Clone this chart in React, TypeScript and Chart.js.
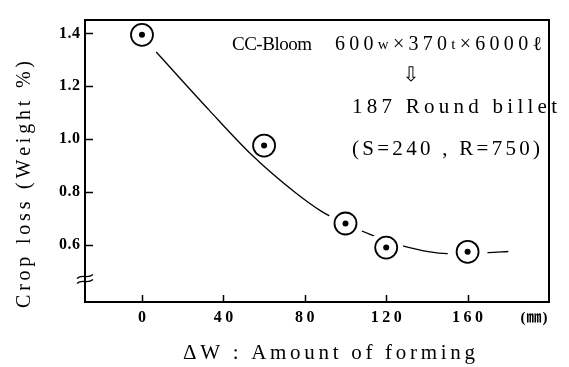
import React, { useEffect, useRef } from "react";
import { Chart, registerables } from "chart.js";

Chart.register(...registerables);

// measured points (ΔW in mm, crop loss in weight %)
const pointX = [0, 60, 100, 120, 160];
const pointY = [1.395, 0.976, 0.681, 0.59, 0.574];

// fitted curve
const curveX = [7, 33, 54, 75, 88, 100, 113, 128, 150, 170, 180];
const curveY = [1.33, 1.11, 0.94, 0.8, 0.728, 0.68, 0.637, 0.596, 0.567, 0.571, 0.575];

const xTicks = [0, 40, 80, 120, 160];
const xTickLabels = ["0", "40", "80", "120", "160"];
const yTicks = [0.6, 0.8, 1.0, 1.2, 1.4];
const yTickLabels = ["0.6", "0.8", "1.0", "1.2", "1.4"];

const xTitle = "ΔW : Amount of forming";
const yTitle = "Crop loss (Weight %)";
const unitLabel = "(㎜)";
const noteLine1a = "CC-Bloom";
const noteLine1b = [
  ["600", "big"],
  ["w", "small"],
  ["×370", "big"],
  ["t", "small"],
  ["×6000ℓ", "big"],
];
const noteArrow = "⇩";
const noteLine2 = "187 Round billet";
const noteLine3 = "(S=240 , R=750)";

const SERIF = "'Liberation Serif', 'DejaVu Serif', serif";

type Run = { t: string; font: string };

function layoutChars(ctx: CanvasRenderingContext2D, runs: Run[]) {
  const chars: { ch: string; font: string; w: number }[] = [];
  for (const r of runs) {
    ctx.font = r.font;
    for (const ch of Array.from(r.t)) {
      chars.push({ ch, font: r.font, w: ctx.measureText(ch).width });
    }
  }
  return chars;
}

function drawFit(ctx: CanvasRenderingContext2D, runs: Run[], x0: number, x1: number, y: number) {
  const chars = layoutChars(ctx, runs);
  const natural = chars.reduce((s, c) => s + c.w, 0);
  const sp = chars.length > 1 ? (x1 - x0 - natural) / (chars.length - 1) : 0;
  let cx = x0;
  ctx.textAlign = "left";
  for (const c of chars) {
    ctx.font = c.font;
    ctx.fillText(c.ch, cx, y);
    cx += c.w + sp;
  }
}

function drawSpaced(
  ctx: CanvasRenderingContext2D,
  text: string,
  font: string,
  x: number,
  y: number,
  sp: number,
  align: "left" | "center" | "right"
) {
  const chars = layoutChars(ctx, [{ t: text, font }]);
  const total = chars.reduce((s, c) => s + c.w, 0) + sp * (chars.length - 1);
  let cx = align === "center" ? x - total / 2 : align === "right" ? x - total : x;
  ctx.textAlign = "left";
  for (const c of chars) {
    ctx.font = c.font;
    ctx.fillText(c.ch, cx, y);
    cx += c.w + sp;
  }
}

const decorPlugin = {
  id: "decor",
  afterDraw(chart: any) {
    const { ctx, chartArea: a } = chart;
    const xs = chart.scales.x;
    const ys = chart.scales.y;
    ctx.save();
    ctx.fillStyle = "#000";
    ctx.strokeStyle = "#000";

    // frame
    ctx.lineWidth = 2;
    ctx.strokeRect(a.left, a.top, a.right - a.left, a.bottom - a.top);

    // inward ticks
    ctx.lineWidth = 1.5;
    ctx.beginPath();
    for (const v of yTicks) {
      const py = Math.round(ys.getPixelForValue(v)) + 0.5;
      ctx.moveTo(a.left, py);
      ctx.lineTo(a.left + 8, py);
    }
    for (const v of xTicks) {
      const px = Math.round(xs.getPixelForValue(v)) + 0.5;
      ctx.moveTo(px, a.bottom);
      ctx.lineTo(px, a.bottom - 7);
    }
    ctx.stroke();

    // axis break mark
    ctx.lineWidth = 1.4;
    ctx.beginPath();
    for (const dy of [-2.5, 2.5]) {
      const by = 279 + dy;
      ctx.moveTo(a.left - 8, by + 2);
      ctx.bezierCurveTo(a.left - 3, by - 3, a.left + 2, by + 3, a.left + 8, by - 2);
    }
    ctx.stroke();

    ctx.textBaseline = "middle";

    // y tick labels
    yTicks.forEach((v, i) => {
      drawSpaced(ctx, yTickLabels[i], `bold 16px ${SERIF}`, a.left - 5, ys.getPixelForValue(v), 0.5, "right");
    });
    // x tick labels
    xTicks.forEach((v, i) => {
      drawSpaced(ctx, xTickLabels[i], `bold 16px ${SERIF}`, xs.getPixelForValue(v), 318, 3.5, "center");
    });
    // unit
    drawSpaced(ctx, unitLabel, `bold 15px ${SERIF}, 'Noto Sans CJK JP'`, 534, 318, 1, "center");

    // x title
    drawFit(ctx, [{ t: xTitle, font: `21px ${SERIF}` }], 183, 475, 353);

    // y title (rotated)
    ctx.save();
    ctx.translate(25, 184);
    ctx.rotate(-Math.PI / 2);
    drawFit(ctx, [{ t: yTitle, font: `20px ${SERIF}` }], -124, 123, 0);
    ctx.restore();

    // annotations
    drawFit(ctx, [{ t: noteLine1a, font: `19px ${SERIF}` }], 232, 312, 45);
    drawFit(
      ctx,
      noteLine1b.map(([t, s]) => ({ t, font: s === "big" ? `20px ${SERIF}` : `15px ${SERIF}` })),
      335,
      542,
      45
    );
    ctx.font = `20px 'DejaVu Sans', sans-serif`;
    ctx.textAlign = "center";
    ctx.fillText(noteArrow, 411, 76);
    drawFit(ctx, [{ t: noteLine2, font: `21px ${SERIF}` }], 352, 557, 107);
    drawFit(ctx, [{ t: noteLine3, font: `21px ${SERIF}` }], 352, 540, 149);

    ctx.restore();
  },
};

export default function App() {
  const ref = useRef<HTMLCanvasElement | null>(null);

  useEffect(() => {
    if (!ref.current) return;
    const pts = pointX.map((x, i) => ({ x, y: pointY[i] }));
    const curve = curveX.map((x, i) => ({ x, y: curveY[i] }));
    const chart = new Chart(ref.current, {
      type: "scatter",
      data: {
        datasets: [
          {
            label: "dot",
            data: pts,
            order: 0,
            pointRadius: 3,
            pointBackgroundColor: "#000",
            pointBorderWidth: 0,
          },
          {
            label: "ring",
            data: pts,
            order: 1,
            pointRadius: 11,
            pointBackgroundColor: "#fff",
            pointBorderColor: "#000",
            pointBorderWidth: 1.8,
          },
          {
            label: "halo",
            data: pts,
            order: 2,
            pointRadius: [0, 0, 18, 17, 20],
            pointBackgroundColor: "#fff",
            pointBorderWidth: 0,
          },
          {
            label: "curve",
            data: curve,
            order: 3,
            showLine: true,
            borderColor: "#000",
            borderWidth: 1.3,
            pointRadius: 0,
            cubicInterpolationMode: "monotone",
          },
        ],
      },
      options: {
        responsive: false,
        animation: false,
        devicePixelRatio: 1,
        events: [],
        layout: { padding: { top: 10, right: 6, left: 0, bottom: 0 } },
        plugins: { legend: { display: false }, tooltip: { enabled: false } },
        scales: {
          x: {
            type: "linear",
            min: -28,
            max: 200,
            grid: { display: false },
            border: { display: false },
            ticks: { display: false },
            afterFit: (s: any) => {
              s.height = 65;
            },
          },
          y: {
            type: "linear",
            min: 0.384,
            max: 1.451,
            grid: { display: false },
            border: { display: false },
            ticks: { display: false },
            afterFit: (s: any) => {
              s.width = 85;
            },
          },
        },
      },
      plugins: [decorPlugin],
    } as any);
    return () => chart.destroy();
  }, []);

  return (
    <div style={{ position: "fixed", left: 0, top: 0, width: 569, height: 367, background: "#fff" }}>
      <canvas ref={ref} width={569} height={367} style={{ width: 569, height: 367, display: "block" }} />
    </div>
  );
}
